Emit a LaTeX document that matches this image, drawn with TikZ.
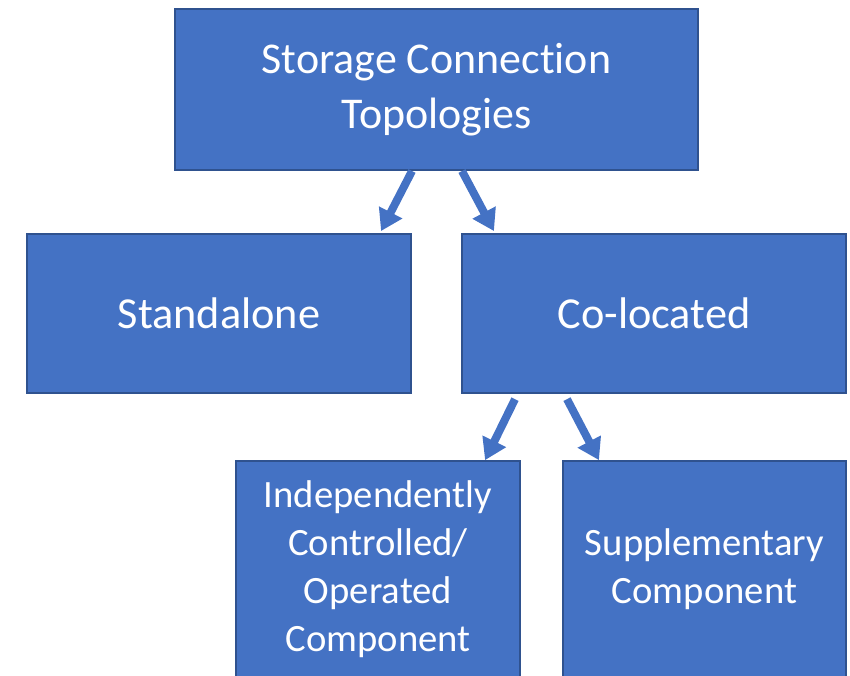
\documentclass[tikz,border=0pt]{standalone}
\usepackage{fontspec}
\setmainfont[Ligatures=NoCommon]{Carlito}
\usepackage{xcolor}
\usetikzlibrary{arrows.meta,positioning,calc}
\definecolor{boxblue}{RGB}{68,114,196}
\definecolor{edgeblue}{RGB}{47,82,143}

\begin{document}
\begin{tikzpicture}[
  box/.style={draw=edgeblue, line width=1.2pt, fill=boxblue, text=white,
    align=center, inner sep=0pt},
  arr/.style={-{Triangle[width=0.5cm,length=0.42cm]}, line width=0.16cm, draw=boxblue}
]
\useasboundingbox (0,0) rectangle (17,-13.52);
% top level
\node[box, minimum width=10.46cm, minimum height=3.22cm,
  font=\fontsize{25}{31.5}\selectfont] (top) at (8.73,-1.79)
  {Storage Connection\\Topologies};
% second level
\node[box, minimum width=7.68cm, minimum height=3.18cm,
  font=\fontsize{25.2}{31}\selectfont, below=1.24cm of top, xshift=-4.35cm] (stand) {Standalone};
\node[box, minimum width=7.68cm, minimum height=3.18cm,
  font=\fontsize{25.2}{31}\selectfont, below=1.24cm of top, xshift=4.35cm] (colo) {Co-located};
% third level
\node[box, minimum width=5.68cm, minimum height=4.32cm,
  font=\fontsize{22}{27.4}\selectfont, below=1.32cm of colo, xshift=-5.52cm] (indep)
  {Independently\\Controlled/\\Operated\\Component};
\node[box, minimum width=5.66cm, minimum height=4.32cm,
  font=\fontsize{22}{27.4}\selectfont, below=1.32cm of colo, xshift=1.01cm] (supp)
  {Supplementary\\Component};

\draw[arr] ([xshift=-0.49cm]top.south) -- ([xshift=-0.62cm,yshift=0.04cm]stand.north east);
\draw[arr] ([xshift=0.51cm]top.south) -- ([xshift=0.66cm,yshift=0.04cm]colo.north west);
\draw[arr] ([xshift=-2.78cm,yshift=-0.1cm]colo.south) -- ([xshift=-0.72cm]indep.north east);
\draw[arr] ([xshift=-1.74cm,yshift=-0.1cm]colo.south) -- ([xshift=0.74cm]supp.north west);
\end{tikzpicture}
\end{document}
